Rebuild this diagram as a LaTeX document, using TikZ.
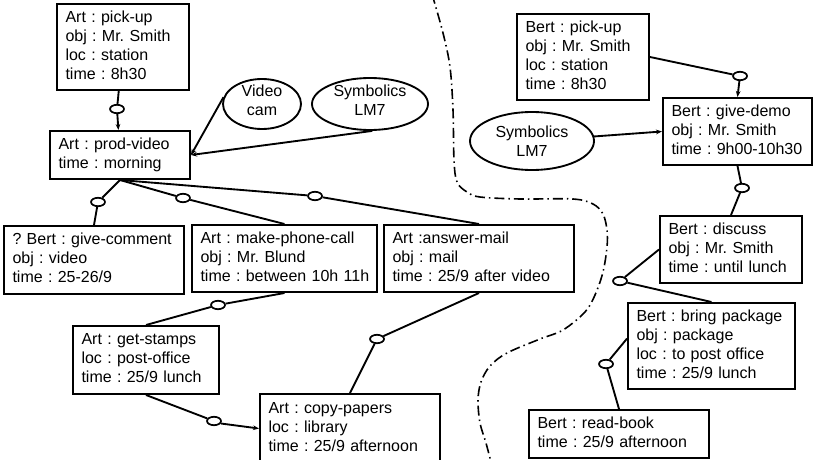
\documentclass[tikz,border=0pt]{standalone}
\usepackage{fontspec}
\setmainfont{Liberation Sans}
\usetikzlibrary{shapes.geometric,arrows.meta}
\tikzset{
  box/.style={draw, line width=1.5pt, anchor=north west, inner xsep=0pt, inner ysep=0pt,
    align=left, font=\fontsize{12}{14.25}\selectfont\frenchspacing},
  conn/.style={line width=1.4pt},
  arr/.style={conn, -{Stealth[length=4.5pt,width=3.5pt]}},
  link/.style={ellipse, draw, line width=1.3pt, minimum width=10.5pt, minimum height=6.3pt, inner sep=0pt},
  obj/.style={ellipse, draw, line width=1.4pt, inner sep=0pt},
  lbl/.style={align=center, font=\fontsize{12}{14.25}\selectfont\frenchspacing, inner sep=0pt},
  sep/.style={line width=1.2pt, dash pattern=on 7.5pt off 3pt on 1.1pt off 3pt}
}
\newcommand\bx[6]{%
  \pgfmathsetmacro\bxw{(#4-#2)*0.75}%
  \pgfmathsetmacro\bxh{(#5-#3)*0.75}%
  \pgfmathsetmacro\bxt{(#4-#2-17)*0.75}%
  \node[box, minimum width=\bxw pt, minimum height=\bxh pt, text width=\bxt pt] (#1) at (#2,#3)
    {\begin{tabular}{@{}l@{}}#6\end{tabular}};}
\begin{document}
\begin{tikzpicture}[x=0.75pt, y=-0.75pt]
\path[use as bounding box] (0,0) rectangle (817,460);
\clip (0,0) rectangle (817,460);
% left side boxes
\bx{pickA}{56}{3}{188}{89}{Art : pick-up\\obj : Mr. Smith\\loc : station\\time : 8h30}
\bx{prodvideo}{49}{130}{189}{178}{Art : prod-video\\time : morning}
\bx{givecomment}{3}{225}{183}{293}{? Bert : give-comment\\obj : video\\time : 25-26/9}
\bx{phonecall}{191}{224}{376}{291}{Art : make-phone-call\\obj : Mr. Blund\\time : between 10h 11h}
\bx{answermail}{383}{224}{573}{291}{Art :answer-mail\\obj : mail\\time : 25/9 after video}
\bx{getstamps}{72}{325}{218}{393}{Art : get-stamps\\loc : post-office\\time : 25/9 lunch}
\bx{copypapers}{259}{393}{439}{462}{Art : copy-papers\\loc : library\\time : 25/9 afternoon}
% right side boxes
\bx{pickB}{516}{13}{648}{99}{Bert : pick-up\\obj : Mr. Smith\\loc : station\\time : 8h30}
\bx{givedemo}{662}{97}{811}{164}{Bert : give-demo\\obj : Mr. Smith\\time : 9h00-10h30}
\bx{discuss}{659}{215}{801}{282}{Bert : discuss\\obj : Mr. Smith\\time : until lunch}
\bx{bringpkg}{627}{302}{794}{388}{Bert : bring package\\obj : package\\loc : to post office\\time : 25/9 lunch}
\bx{readbook}{528}{409}{708}{457}{Bert : read-book\\time : 25/9 afternoon}
% object ellipses
\node[obj, minimum width=58.5pt, minimum height=37.5pt,
  label={[lbl, yshift=3pt]center:Video\\cam}] (videocam) at (262,104) {};
\node[obj, minimum width=87pt, minimum height=39pt,
  label={[lbl, yshift=3pt]center:Symbolics\\LM7}] (symL) at (370,104) {};
\node[obj, minimum width=93pt, minimum height=43.5pt,
  label={[lbl]center:Symbolics\\LM7}] (symR) at (532,141) {};
% link ellipses
\node[link] (l1) at (117,109) {};
\node[link] (l2) at (98,202) {};
\node[link] (l3) at (183,198) {};
\node[link] (l4) at (315,196) {};
\node[link] (l5) at (218,305) {};
\node[link] (l6) at (377,339) {};
\node[link] (l7) at (214,421) {};
\node[link] (l8) at (740,76) {};
\node[link] (l9) at (742,188) {};
\node[link] (l10) at (620,281) {};
\node[link] (l11) at (606,364) {};
% left connectors
\draw[conn] (pickA) -- (l1);
\draw[arr] (l1) -- (prodvideo);
\draw[arr] (videocam.170) -- (prodvideo.east);
\draw[arr] (symL.-85) -- (prodvideo.east);
\draw[conn] (prodvideo.south) -- (l2);
\draw[conn] (l2) -- (givecomment.north);
\draw[conn] (prodvideo.south) -- (l3);
\draw[conn] (l3) -- (phonecall.north);
\draw[conn] (prodvideo.south) -- (l4);
\draw[conn] (l4) -- (answermail.north);
\draw[conn] (phonecall.south) -- (l5);
\draw[conn] (l5) -- (getstamps.north);
\draw[conn] (answermail.south) -- (l6);
\draw[conn] (l6) -- (copypapers.north);
\draw[conn] (getstamps.south) -- (l7);
\draw[arr] (l7.-20) -- (copypapers.west);
% right connectors
\draw[conn] (pickB.east) -- (l8);
\draw[arr] (l8) -- (givedemo.north);
\draw[conn] (givedemo.south) -- (l9);
\draw[conn] (l9) -- (discuss.north);
\draw[arr] (symR) -- (givedemo.west);
\draw[conn] (discuss.west) -- (l10);
\draw[conn] (l10) -- (bringpkg.north);
\draw[conn] (bringpkg.175) -- (l11);
\draw[conn] (l11) -- (readbook.north);
% separator
\draw[sep] plot[smooth, tension=0.55] coordinates {(432,-6) (443,33) (450,67) (453,110) (454,160) (457,182) (467,192) (480,197) (520,199) (573,199) (593,204) (603,214) (607,230) (607,247) (603,272) (595,295) (585,312) (563,330) (540,339) (507,353) (490,366) (481,382) (478,400) (480,423) (486,443) (492,466)};
\end{tikzpicture}
\end{document}
